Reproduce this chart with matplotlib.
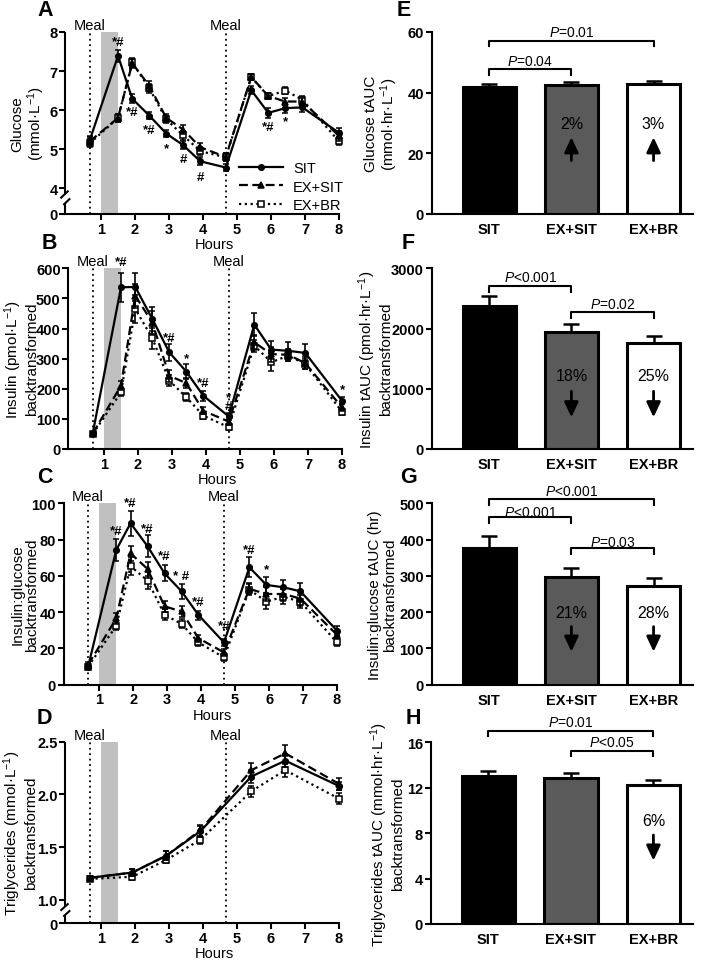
import matplotlib
matplotlib.use('Agg')
import matplotlib.pyplot as plt
from matplotlib.lines import Line2D

plt.rcParams['font.family'] = ['Liberation Sans', 'DejaVu Sans']
plt.rcParams['mathtext.fontset'] = 'custom'
plt.rcParams['mathtext.rm'] = 'Liberation Sans'
plt.rcParams['mathtext.it'] = 'Liberation Sans:italic'
plt.rcParams['mathtext.bf'] = 'Liberation Sans:bold'

# ---------------- data ----------------
groups = ['SIT', 'EX+SIT', 'EX+BR']
hours = [0.67, 1.5, 1.92, 2.42, 2.92, 3.42, 3.92, 4.67, 5.42, 5.92, 6.42, 6.92, 8]
tg_hours = [0.67, 1.92, 2.92, 3.92, 5.42, 6.42, 8]
meals = [0.67, 4.67]
exercise_window = [1.0, 1.5]

glucose_sit = [5.23, 7.39, 6.29, 5.86, 5.40, 5.10, 4.69, 4.53, 6.51, 5.93, 6.05, 6.07, 5.42]
glucose_exsit = [5.20, 5.80, 7.20, 6.62, 5.80, 5.50, 5.05, 4.80, 6.85, 6.36, 6.22, 6.22, 5.34]
glucose_exbr = [5.15, 5.80, 7.22, 6.56, 5.76, 5.35, 4.95, 4.79, 6.84, 6.36, 6.50, 6.27, 5.20]
glucose_sit_err = [0.10, 0.15, 0.12, 0.08, 0.10, 0.10, 0.10, 0.10, 0.10, 0.12, 0.12, 0.12, 0.12]
glucose_exsit_err = [0.10, 0.10, 0.12, 0.12, 0.10, 0.12, 0.10, 0.10, 0.08, 0.08, 0.10, 0.10, 0.12]
glucose_exbr_err = [0.10, 0.10, 0.12, 0.12, 0.10, 0.12, 0.10, 0.10, 0.08, 0.08, 0.10, 0.10, 0.10]

insulin_sit = [53, 537, 538, 432, 321, 257, 177, 108, 413, 330, 326, 319, 160]
insulin_exsit = [52, 210, 509, 420, 243, 219, 127, 91, 354, 315, 313, 285, 138]
insulin_exbr = [50, 188, 465, 368, 227, 172, 111, 72, 343, 288, 310, 282, 124]
insulin_sit_err = [5, 48, 48, 40, 28, 25, 17, 12, 37, 28, 28, 28, 12]
insulin_exsit_err = [5, 15, 40, 38, 20, 18, 12, 10, 25, 25, 20, 20, 12]
insulin_exbr_err = [5, 12, 45, 35, 18, 14, 10, 8, 20, 30, 18, 18, 10]

ratio_sit = [10, 74.4, 89, 76.3, 61.4, 51.5, 38.4, 23.3, 64.7, 55, 53.7, 51.5, 29.8]
ratio_exsit = [11, 36.6, 72.4, 63.8, 43.2, 40.4, 25.6, 17.8, 52.8, 50, 50, 47.5, 27.5]
ratio_exbr = [10, 32.5, 65.3, 57.4, 38.6, 33.5, 23.3, 15, 52.4, 45.8, 48.5, 45.8, 23.3]
ratio_sit_err = [1.5, 6, 7, 6, 4.5, 4, 2.5, 2, 5.5, 4.5, 4, 4.5, 2.5]
ratio_exsit_err = [1.5, 3, 4, 4, 3, 3, 2, 2, 3, 4, 4, 4, 2]
ratio_exbr_err = [1.5, 2.5, 5, 4.5, 3, 2.5, 2, 2, 3, 4, 4, 3.5, 2]

tg_sit = [1.21, 1.26, 1.42, 1.65, 2.17, 2.32, 2.08]
tg_exsit = [1.21, 1.26, 1.42, 1.66, 2.23, 2.39, 2.10]
tg_exbr = [1.20, 1.22, 1.38, 1.57, 2.03, 2.23, 1.96]
tg_sit_err = [0.02, 0.03, 0.04, 0.05, 0.06, 0.06, 0.04]
tg_exsit_err = [0.02, 0.03, 0.04, 0.05, 0.07, 0.08, 0.06]
tg_exbr_err = [0.02, 0.03, 0.03, 0.04, 0.05, 0.06, 0.05]

sig_glucose = [(1.5, 7.74, '*#'), (1.92, 5.94, '*#'), (2.42, 5.50, '*#'), (2.92, 5.02, '*'),
               (3.42, 4.74, '#'), (3.92, 4.29, '#'), (5.92, 5.58, '*#'), (6.42, 5.71, '*')]
sig_insulin = [(1.5, 620, '*#'), (2.92, 367, '*#'), (3.42, 301, '*'), (3.92, 219, '*#'),
               (4.67, 172, '*'), (4.67, 144, '#'), (8, 199, '*')]
sig_ratio = [(1.5, 85, '*#'), (1.92, 100, '*#'), (2.42, 86, '*#'), (2.92, 71, '*#'),
             (3.42, 60, '* #'), (3.92, 45.8, '*#'), (4.67, 32.5, '*#'), (5.42, 74, '*#'),
             (5.92, 63.8, '*')]

glucose_auc = [41.8, 42.6, 42.9]
glucose_auc_err = [0.9, 1.0, 1.0]
insulin_auc = [2369, 1948, 1766]
insulin_auc_err = [166, 128, 116]
ratio_auc = [377, 296, 272]
ratio_auc_err = [32, 26, 23]
tg_auc = [13.06, 12.86, 12.27]
tg_auc_err = [0.44, 0.44, 0.41]

glucose_pct = ['', '2%', '3%']
insulin_pct = ['', '18%', '25%']
ratio_pct = ['', '21%', '28%']
tg_pct = ['', '', '6%']

# ---------------- figure ----------------
W, H = 709, 962
fig = plt.figure(figsize=(W / 100, H / 100), dpi=100)


def add_ax(x0, x1, y0, y1):
    return fig.add_axes([x0 / W, 1 - y1 / H, (x1 - x0) / W, (y1 - y0) / H])


TICK_FS = 10.5
LABEL_FS = 11
SPINE_LW = 1.5


def style_axes(ax):
    for s in ['top', 'right']:
        ax.spines[s].set_visible(False)
    for s in ['left', 'bottom']:
        ax.spines[s].set_linewidth(SPINE_LW)
    ax.tick_params(width=SPINE_LW, length=4, direction='out', labelsize=TICK_FS, pad=1.5)
    for lab in ax.get_xticklabels() + ax.get_yticklabels():
        lab.set_fontweight('bold')


def place_ylabel(ax, text, right_edge_px, ax_left_px, ax_w_px):
    ax.set_ylabel(text, fontsize=LABEL_FS, linespacing=1.05)
    ax.yaxis.set_label_coords((right_edge_px - ax_left_px) / ax_w_px, 0.5)


def place_letter(ax, letter, left_px, center_y_px, box):
    x = (left_px - box[0]) / (box[1] - box[0])
    y = (box[3] - center_y_px) / (box[3] - box[2])
    ax.text(x, y, letter, transform=ax.transAxes, fontsize=15.5,
            fontweight='bold', ha='left', va='center')


series_styles = [
    dict(ls='-', marker='o', ms=4, mfc='k', lw=1.6),
    dict(ls=(0, (4, 2)), marker='^', ms=5, mfc='k', lw=1.6),
    dict(ls=(0, (1, 1.6)), marker='s', ms=5, mfc='white', lw=1.6),
]


def line_panel(ax, box, t, ys, errs, ylim, yticks, yticklabels, sig, letter, letter_pos,
               ylabel, label_edge, brk=None, legend=False):
    ax.axvspan(exercise_window[0], exercise_window[1], color='#c0c0c0', lw=0, zorder=0)
    for m in meals:
        ax.axvline(m, color='k', ls=(0, (1, 2)), lw=1.3, zorder=1)
        ax.text(m, 1.0, 'Meal', transform=ax.get_xaxis_transform(), ha='center',
                va='bottom', fontsize=10.5)
    for y, e, st, z in zip(ys, errs, series_styles, [5, 4, 3]):
        ax.errorbar(t, y, yerr=e, color='k', mec='k', mew=1.1, capsize=2.5,
                    elinewidth=1.2, capthick=1.2, clip_on=False, zorder=z, **st)
    for x, y, s in sig:
        ax.text(x, y, s, ha='center', va='center', fontsize=9.5, fontweight='bold')
    ax.set_xlim(-0.05, 8.0)
    ax.set_ylim(*ylim)
    ax.set_xticks(range(1, 9))
    ax.set_yticks(yticks)
    ax.set_yticklabels(yticklabels)
    style_axes(ax)
    ax.text(0.545, -0.165, 'Hours', transform=ax.transAxes, ha='center', va='center',
            fontsize=10.5)
    place_ylabel(ax, ylabel, label_edge, box[0], box[1] - box[0])
    place_letter(ax, letter, letter_pos[0], letter_pos[1], box)
    if brk is not None:
        low_end, up_start, dy = brk
        ax.spines['left'].set_visible(False)
        tr = ax.get_yaxis_transform()
        dx = 0.015
        ax.plot([0, 0], [ylim[0], low_end], color='k', lw=SPINE_LW, transform=tr,
                clip_on=False, solid_capstyle='butt')
        ax.plot([0, 0], [up_start, ylim[1]], color='k', lw=SPINE_LW, transform=tr,
                clip_on=False, solid_capstyle='butt')
        ax.plot([-dx * 0.3, dx], [low_end - dy * 0.3, low_end + dy], color='k',
                lw=SPINE_LW, transform=tr, clip_on=False)
        ax.plot([-dx, dx * 0.6], [up_start - dy, up_start + dy * 0.6], color='k',
                lw=SPINE_LW, transform=tr, clip_on=False)
    if legend:
        handles = [Line2D([], [], color='k', mec='k', mew=1.1, **st) for st in series_styles]
        ax.legend(handles, groups, loc='upper left', bbox_to_anchor=(0.635, 0.29),
                  frameon=False, fontsize=10.5, handlelength=3.0, handletextpad=0.7,
                  labelspacing=0.3, borderpad=0, borderaxespad=0)


bar_colors = ['black', '#5a5a5a', 'white']


def bar_panel(ax, box, vals, errs, top, yticks, brackets, pct, arrow_tail,
              arrow_tip, pct_y, letter, letter_pos, ylabel, label_edge):
    x = list(range(len(groups)))
    ax.bar(x, vals, width=0.65, color=bar_colors, edgecolor='k', linewidth=2.2, zorder=2)
    ax.errorbar(x, vals, yerr=[[0] * len(x), errs], fmt='none', ecolor='k',
                elinewidth=1.8, capsize=5.5, capthick=1.8, zorder=1)
    ax.set_xlim(-0.7, 2.48)
    ax.set_ylim(0, top)
    ax.set_xticks(x)
    ax.set_xticklabels(groups)
    ax.set_yticks(yticks)
    style_axes(ax)
    ax.tick_params(axis='x', length=0, pad=6)
    for i, j, y, yd, label, ty in brackets:
        ax.plot([i, i, j, j], [yd, y, y, yd], color='k', lw=1.5, clip_on=False)
        ax.text((i + j) / 2, ty, label, ha='center', va='center', fontsize=10)
    for i, p in enumerate(pct):
        if not p:
            continue
        ax.text(i, pct_y, p, ha='center', va='center', fontsize=11.5, zorder=5)
        ax.annotate('', xy=(i, arrow_tip), xytext=(i, arrow_tail),
                    arrowprops=dict(arrowstyle='-|>,head_length=0.9,head_width=0.42',
                                    lw=2.0, color='k', shrinkA=0, shrinkB=0), zorder=5)
    place_ylabel(ax, ylabel, label_edge, box[0], box[1] - box[0])
    place_letter(ax, letter, letter_pos[0], letter_pos[1], box)


# ---- left column ----
boxA = (65.3, 339, 33, 215)
axA = add_ax(*boxA)
line_panel(axA, boxA, hours, [glucose_sit, glucose_exsit, glucose_exbr],
           [glucose_sit_err, glucose_exsit_err, glucose_exbr_err],
           (3.34, 8.0), [3.34, 4, 5, 6, 7, 8], ['0', '4', '5', '6', '7', '8'],
           sig_glucose, 'A', (37, 11), 'Glucose\n(mmol·L$^{-1}$)', 47,
           brk=(3.62, 3.86, 0.1), legend=True)

boxB = (68.3, 342, 269.3, 450)
axB = add_ax(*boxB)
line_panel(axB, boxB, hours, [insulin_sit, insulin_exsit, insulin_exbr],
           [insulin_sit_err, insulin_exsit_err, insulin_exbr_err],
           (0, 600), [0, 100, 200, 300, 400, 500, 600],
           ['0', '100', '200', '300', '400', '500', '600'],
           sig_insulin, 'B', (42, 244), 'Insulin (pmol·L$^{-1}$)\nbacktransformed', 39)

boxC = (63.7, 337, 504.3, 685.7)
axC = add_ax(*boxC)
line_panel(axC, boxC, hours, [ratio_sit, ratio_exsit, ratio_exbr],
           [ratio_sit_err, ratio_exsit_err, ratio_exbr_err],
           (0, 100), [0, 20, 40, 60, 80, 100], ['0', '20', '40', '60', '80', '100'],
           sig_ratio, 'C', (37, 478), 'Insulin:glucose\nbacktransformed', 39)

boxD = (65.3, 339, 742.7, 924)
axD = add_ax(*boxD)
line_panel(axD, boxD, tg_hours, [tg_sit, tg_exsit, tg_exbr],
           [tg_sit_err, tg_exsit_err, tg_exbr_err],
           (0.782, 2.5), [0.782, 1.0, 1.5, 2.0, 2.5], ['0', '1.0', '1.5', '2.0', '2.5'],
           [], 'D', (37, 718), 'Triglycerides (mmol·L$^{-1}$)\nbacktransformed', 38,
           brk=(0.86, 0.94, 0.035))

# ---- right column ----
boxE = (431.7, 693, 33, 215)
axE = add_ax(*boxE)
bar_panel(axE, boxE, glucose_auc, glucose_auc_err, 60, [0, 20, 40, 60],
          [(0, 1, 47.8, 45.8, '$P$=0.04', 50.6), (0, 2, 57.1, 55.5, '$P$=0.01', 59.9)],
          glucose_pct, 17.6, 25.3, 29.7, 'E', (397, 11),
          'Glucose tAUC\n(mmol·hr·L$^{-1}$)', 400)

boxF = (431.7, 693, 269.3, 450)
axF = add_ax(*boxF)
bar_panel(axF, boxF, insulin_auc, insulin_auc_err, 3000, [0, 1000, 2000, 3000],
          [(0, 1, 2711, 2612, '$P$<0.001', 2861), (1, 2, 2269, 2170, '$P$=0.02', 2407)],
          insulin_pct, 958, 526, 1218, 'F', (402, 244),
          'Insulin tAUC (pmol·hr·L$^{-1}$)\nbacktransformed', 393)

boxG = (431.7, 693, 504.3, 685.7)
axG = add_ax(*boxG)
bar_panel(axG, boxG, ratio_auc, ratio_auc_err, 500, [0, 100, 200, 300, 400, 500],
          [(0, 2, 512, 495, '$P$<0.001', 535), (0, 1, 461, 446, '$P$<0.001', 477),
           (1, 2, 377, 360, '$P$=0.03', 392)],
          ratio_pct, 160, 91, 200, 'G', (400, 478),
          'Insulin:glucose tAUC (hr)\nbacktransformed', 397)

boxH = (430.7, 693, 743.3, 925)
axH = add_ax(*boxH)
bar_panel(axH, boxH, tg_auc, tg_auc_err, 16, [0, 4, 8, 12, 16],
          [(0, 2, 17.03, 16.53, '$P$=0.01', 17.76), (1, 2, 15.27, 14.77, '$P$<0.05', 16.0)],
          tg_pct, 7.84, 5.58, 9.1, 'H', (406, 718),
          'Triglycerides tAUC (mmol·hr·L$^{-1}$)\nbacktransformed', 405)

fig.savefig('out.png', dpi=100)
